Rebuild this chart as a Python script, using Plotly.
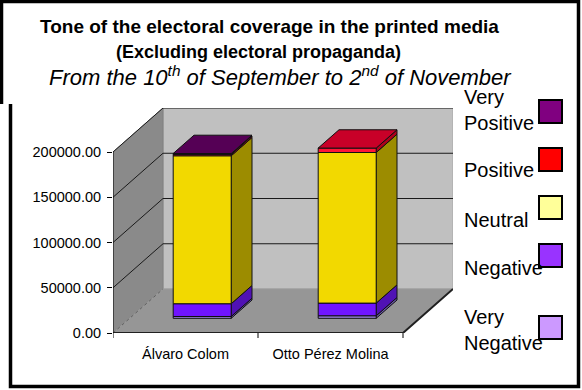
import plotly.graph_objects as go

# ---------------- data ----------------
CATEGORIES = ["Álvaro Colom", "Otto Pérez Molina"]
SERIES = ["Very Negative", "Negative", "Neutral", "Positive", "Very Positive"]
VERY_NEGATIVE = [2000, 2800]
NEGATIVE = [14100, 14000]
NEUTRAL = [163500, 166400]
POSITIVE = [1500, 4900]
VERY_POSITIVE = [1000, 0]
Y_TICKS = [0, 50000, 100000, 150000, 200000]
Y_TICK_TEXT = [f"{v:.2f}" for v in Y_TICKS]
TITLE_LINES = [
    "<b>Tone of the electoral coverage in the printed media</b>",
    "<b>(Excluding electoral propaganda)</b>",
    "<i>From the 10<sup>th</sup> of September to 2<sup>nd</sup> of November</i>",
]

VALUES = [VERY_NEGATIVE, NEGATIVE, NEUTRAL, POSITIVE, VERY_POSITIVE]

# ---------------- styles ----------------
FRONT = ['#9c84e0', '#7014ff', '#f2d900', '#ff1438', '#80006c']
SIDE = ['#6a58a8', '#5012b4', '#9c8c00', '#b0001c', '#500048']
TOP = ['#8a74cc', '#5e10d8', '#c8b400', '#c80028', '#550055']
LEGEND_COLORS = ['#cc99ff', '#9933ff', '#ffff99', '#ff0000', '#800080']
FONT = "Liberation Sans, Arial, sans-serif"
TITLE_POS = [(269, 27, 19), (258, 52, 18), (280, 76, 22)]

# ---------------- geometry ----------------
W, H = 582, 390
L, R, T, B = 113, 453, 108, 333
PLOT_W, PLOT_H = R - L, B - T
Y_MAX = Y_TICKS[-1]
PX_PER_VAL = (B - 152) / Y_MAX
DEPTH_X, DEPTH_YPX = 50, 44
DEPTH_Y = DEPTH_YPX / PX_PER_VAL
FRONT_W = PLOT_W - DEPTH_X
CAT_W = FRONT_W / len(CATEGORIES)
BAR_HALF = 0.2 * CAT_W
F0, F1 = 0.334, 0.75
Y_RANGE_TOP = PLOT_H / PX_PER_VAL


def P(x, v, f):
    return (x + f * DEPTH_X, v + f * DEPTH_Y)


def poly(pts, fill, lc='black', lw=1):
    xs = [p[0] for p in pts] + [pts[0][0]]
    ys = [p[1] for p in pts] + [pts[0][1]]
    return go.Scatter(x=xs, y=ys, mode='lines', fill='toself', fillcolor=fill,
                      line=dict(color=lc, width=lw), hoverinfo='skip', showlegend=False)


def line(pts, lc='black', lw=1, dash='solid'):
    return go.Scatter(x=[p[0] for p in pts], y=[p[1] for p in pts], mode='lines',
                      line=dict(color=lc, width=lw, dash=dash), hoverinfo='skip',
                      showlegend=False)


fig = go.Figure()

# walls
fig.add_trace(poly([P(0, 0, 1), P(FRONT_W, 0, 1), P(FRONT_W, Y_MAX, 1), P(0, Y_MAX, 1)],
                   '#c0c0c0', '#a8a8a8'))
fig.add_trace(poly([P(0, 0, 0), P(0, 0, 1), P(0, Y_MAX, 1), P(0, Y_MAX, 0)],
                   '#8a8a8a', '#808080'))
fig.add_trace(poly([P(0, 0, 0), P(FRONT_W, 0, 0), P(FRONT_W, 0, 1), P(0, 0, 1)],
                   '#969696', '#9a9a9a'))

# gridlines
for v in Y_TICKS[1:]:
    fig.add_trace(line([P(0, v, 0), P(0, v, 1), P(FRONT_W, v, 1)], '#1a1a1a', 1))
fig.add_trace(line([P(0, 0, 0), P(0, 0, 1)], '#606060', 1, 'dot'))
# floor front and right edges, axis line
fig.add_trace(line([P(0, 0, 0), P(FRONT_W, 0, 0), P(FRONT_W, 0, 1)], '#202020', 2))
fig.add_trace(line([P(0, 0, 0), P(0, Y_MAX, 0)], 'black', 1))

# bars
for i, cat in enumerate(CATEGORIES):
    c = CAT_W * (i + 0.5)
    x0, x1 = c - BAR_HALF, c + BAR_HALF
    base = 0
    top_idx = None
    for s in range(len(SERIES)):
        v = VALUES[s][i]
        if v <= 0:
            continue
        t = base + v
        fig.add_trace(poly([P(x1, base, F0), P(x1, base, F1), P(x1, t, F1), P(x1, t, F0)],
                           SIDE[s], '#101010', 1))
        fig.add_trace(poly([P(x0, base, F0), P(x1, base, F0), P(x1, t, F0), P(x0, t, F0)],
                           FRONT[s], '#101010', 1))
        top_idx = s
        base = t
    if top_idx is not None:
        fig.add_trace(poly([P(x0, base, F0), P(x1, base, F0), P(x1, base, F1), P(x0, base, F1)],
                           TOP[top_idx], '#101010', 1))


def px_x(px):
    return (px - L) / PLOT_W


def px_y(py):
    return (B - py) / PLOT_H


shapes = []
annotations = []

# x boundary ticks
for k in range(len(CATEGORIES) + 1):
    shapes.append(dict(type='line', xref='x', yref='paper', x0=k * CAT_W, x1=k * CAT_W,
                       y0=0, y1=px_y(B + 5), line=dict(color='black', width=1)))

# title
for txt, (cx, cy, fs) in zip(TITLE_LINES, TITLE_POS):
    annotations.append(dict(
        xref='paper', yref='paper', x=px_x(cx), y=px_y(cy), xanchor='center', yanchor='middle',
        showarrow=False, align='center', text=txt,
        font=dict(family=FONT, size=fs, color='black')))

# legend (custom: text left, box right)
LEG_BOX_TOP = [316, 244, 196, 148, 100]
LEG_TEXT_Y = [330, 268, 220, 170, 110]
for s, name in enumerate(SERIES):
    y0 = LEG_BOX_TOP[s]
    shapes.append(dict(type='rect', xref='paper', yref='paper',
                       x0=px_x(539), x1=px_x(562), y0=px_y(y0), y1=px_y(y0 + 23),
                       fillcolor=LEGEND_COLORS[s], line=dict(color='black', width=2)))
    annotations.append(dict(xref='paper', yref='paper', x=px_x(462), y=px_y(LEG_TEXT_Y[s]),
                            xanchor='left', yanchor='middle', showarrow=False, align='left',
                            text=name.replace(' ', '<br>'),
                            font=dict(family=FONT, size=20, color='black')))

# outer frame (title box edge at the top-left, chart frame below)
frame_pts = [(1.5, 104), (1.5, 1.5), (578.5, 1.5), (578.5, 386.5), (10.5, 386.5), (10.5, 104)]
path = "M " + " L ".join(f"{px_x(x)},{px_y(y)}" for x, y in frame_pts)
shapes.append(dict(type='path', xref='paper', yref='paper', path=path,
                   line=dict(color='black', width=3.5)))

fig.update_layout(
    width=W, height=H, autosize=False,
    margin=dict(l=L, r=W - R, t=T, b=H - B, pad=0),
    paper_bgcolor='white', plot_bgcolor='rgba(0,0,0,0)',
    showlegend=False,
    shapes=shapes, annotations=annotations,
    font=dict(family=FONT, color='black'),
    xaxis=dict(range=[0, PLOT_W], showgrid=False, zeroline=False, showline=False,
               tickmode='array', tickvals=[CAT_W * (i + 0.5) for i in range(len(CATEGORIES))],
               ticktext=CATEGORIES, ticks='', tickfont=dict(family=FONT, size=14.5, color='black'),
               ticklabelstandoff=10, fixedrange=True),
    yaxis=dict(range=[0, Y_RANGE_TOP], showgrid=False, zeroline=False, showline=False,
               tickmode='array', tickvals=Y_TICKS, ticktext=Y_TICK_TEXT,
               ticks='outside', ticklen=5, tickcolor='black', tickwidth=1,
               tickfont=dict(family=FONT, size=14.5, color='black'), ticklabelstandoff=3,
               fixedrange=True),
)

fig.write_html("out.html")
